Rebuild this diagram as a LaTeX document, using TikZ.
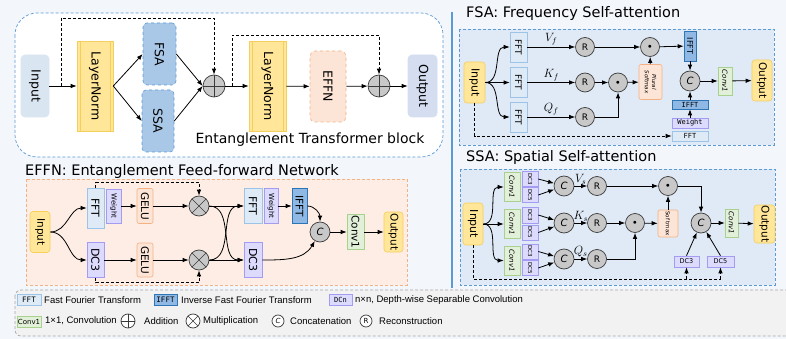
\documentclass[tikz,border=0pt]{standalone}
\usepackage{fontspec}
\setmainfont{DejaVu Sans}
\newfontfamily\monof{DejaVu Sans Mono}
\newfontfamily\legf{Liberation Sans}
\usepackage{graphicx}
\usepackage{xcolor}
\usepackage{tikz}
\usetikzlibrary{calc, arrows.meta}

\definecolor{bgc}{HTML}{F3F6FB}
\definecolor{ylw}{HTML}{FFE699}
\definecolor{ylwd}{HTML}{F5CF5B}
\definecolor{fftc}{HTML}{DEEBF7}
\definecolor{fftd}{HTML}{9DC3E6}
\definecolor{iffc}{HTML}{8FB8E4}
\definecolor{iffd}{HTML}{2E75B6}
\definecolor{purc}{HTML}{DCDAFD}
\definecolor{purd}{HTML}{A49CF2}
\definecolor{orgc}{HTML}{FCE4D6}
\definecolor{orgd}{HTML}{F4B183}
\definecolor{grnc}{HTML}{E2F0D9}
\definecolor{grnd}{HTML}{A9D18E}
\definecolor{opc}{HTML}{C8C8C8}
\definecolor{opd}{HTML}{3A3A3A}
\definecolor{bluel}{HTML}{5B9BD5}
\definecolor{panel}{HTML}{DFEAF6}
\definecolor{effnbg}{HTML}{FDEDE5}
\definecolor{legbg}{HTML}{F2F2F2}
\definecolor{legd}{HTML}{A6A6A6}
\definecolor{inpc}{HTML}{DAE5F2}
\definecolor{outc}{HTML}{D5DDF0}
\definecolor{attn}{HTML}{A9C7E7}

\newcommand{\vt}[1]{\rotatebox{-90}{#1}}

\begin{document}
\begin{tikzpicture}[x=1pt,y=1pt,yscale=-1,
    arr/.style={-{Latex[length=6pt,width=4.5pt]}, line width=0.8pt},
    dsh/.style={dash pattern=on 3pt off 2pt, line width=0.8pt},
    blk/.style={rectangle, draw, inner sep=0pt, line width=0.6pt},
    sz/.style 2 args={minimum width=#1pt, minimum height=#2pt},
    ybox/.style={blk, fill=ylw, draw=ylwd, rounded corners=3pt},
    fbox/.style={blk, fill=fftc, draw=fftd},
    ibox/.style={blk, fill=iffc, draw=iffd},
    pbox/.style={blk, fill=purc, draw=purd},
    obox/.style={blk, fill=orgc, draw=orgd, rounded corners=2pt},
    gbox/.style={blk, fill=grnc, draw=grnd},
    attnbox/.style={blk, fill=attn, draw=bluel, dashed, rounded corners=4pt, fbig},
    lnbox/.style={blk, fill=ylw, draw=ylwd, fbig,
      path picture={\draw[ylwd, line width=0.5pt]
        ([xshift=3pt]path picture bounding box.north west) -- ([xshift=3pt]path picture bounding box.south west)
        ([xshift=-3pt]path picture bounding box.north east) -- ([xshift=-3pt]path picture bounding box.south east);}},
    op/.style={circle, draw=opd, fill=opc, inner sep=0pt, minimum size=20pt, line width=0.7pt},
    addop/.style={op, minimum size=22pt,
      path picture={\draw[opd, line width=0.6pt]
        (path picture bounding box.north) -- (path picture bounding box.south)
        (path picture bounding box.west) -- (path picture bounding box.east);}},
    mulop/.style={op,
      path picture={\draw[opd, line width=0.6pt]
        (path picture bounding box.north west) -- (path picture bounding box.south east)
        (path picture bounding box.north east) -- (path picture bounding box.south west);}},
    catop/.style={op, font=\fontsize{10}{11}\selectfont\itshape},
    recop/.style={op, minimum size=19pt, font=\fontsize{9}{10}\selectfont},
    dotop/.style={op, minimum size=19pt, font=\fontsize{7}{7}\selectfont},
    ttl/.style={font=\fontsize{14.5}{16}\selectfont, inner sep=0pt},
    fbig/.style={font=\fontsize{12.5}{14}\selectfont},
    fmd/.style={font=\fontsize{10.5}{12}\selectfont},
    fsm/.style={font=\fontsize{9}{10}\selectfont},
    ftn/.style={font=\fontsize{7}{8}\selectfont},
    fxs/.style={font=\fontsize{5.5}{6}\selectfont},
    lgt/.style={font=\legf\fontsize{9.5}{10}\selectfont, inner sep=0pt},
    lab/.style={font=\fontsize{12}{14}\selectfont, inner sep=1.5pt}]

\path[use as bounding box] (0,0) rectangle (786,339);
\clip (0,0) rectangle (786,339);
\fill[bgc] (0,0) rectangle (786,339);

% transformer block
\draw[bluel, dsh, line width=0.7pt, fill=white, rounded corners=22pt] (15,13) rectangle (443,157);
\node[blk, sz={28}{62}, fill=inpc, draw=inpc, rounded corners=4pt, fbig] (inA) at (35,86) {\vt{Input}};
\node[lnbox, sz={36}{90}] (lnA) at (95,86) {\vt{LayerNorm}};
\node[attnbox, sz={33}{62}] (fsa) at (159.5,54) {\vt{FSA}};
\node[attnbox, sz={32}{62}] (ssa) at (158,121) {\vt{SSA}};
\node[addop] (addA) at (214,86) {};
\node[lnbox, sz={37}{90}] (lnB) at (267.5,86) {\vt{LayerNorm}};
\node[blk, sz={36}{71}, fill=orgc, draw=orgd, dashed, rounded corners=5pt, fbig] (effnA) at (328,86.5) {\vt{EFFN}};
\node[addop] (addB) at (379,86) {};
\node[blk, sz={29}{62}, fill=outc, draw=outc, rounded corners=4pt, fbig] (outA) at (422.5,86) {\vt{Output}};
\node[font=\fontsize{14}{16}\selectfont, inner sep=0pt] (etb) at (310,140) {Entanglement Transformer block};

\coordinate (skipA) at (61,86);
\coordinate (skipB) at (232,86);
\draw[arr] (inA) -- (lnA);
\draw[arr] (lnA.east) -- (fsa.west);
\draw[arr] (lnA.east) -- (ssa.west);
\draw[arr] (fsa.east) -- (addA.west);
\draw[arr] (ssa.east) -- (addA.west);
\draw[arr] (addA) -- (lnB);
\draw[arr] (lnB) -- (effnA);
\draw[arr] (effnA) -- (addB);
\draw[arr] (addB) -- (outA);
\draw[dsh, arr] (skipA) -- ++(0,-68) -| (addA);
\draw[dsh, arr] (skipB) -- ++(0,-51) -| (addB);

\draw[bluel, line width=1.3pt] (452,12) -- (452,288);

% EFFN
\node[ttl, anchor=west] (effnT) at (25,171) {EFFN: Entanglement Feed-forward Network};
\draw[orgd, dsh, line width=0.7pt, fill=effnbg] (26,179) rectangle (407,285);
\node[ybox, sz={20}{41}, fmd] (inE) at (40,232) {\vt{Input}};
\node[fbox, sz={17}{40}, font=\fontsize{11}{12}\selectfont] (fftE1) at (95.5,208) {\vt{FFT}};
\node[pbox, sz={15}{34}, ftn] (wE1) at (113.5,206) {\vt{Weight}};
\node[obox, sz={16}{35}, fmd] (geluE1) at (145,206) {\vt{GELU}};
\node[mulop] (mulE1) at (199,206) {};
\node[pbox, sz={17}{35}, font=\fontsize{11}{12}\selectfont] (dcE1) at (95.5,260) {\vt{DC3}};
\node[obox, sz={16}{34}, fmd] (geluE2) at (145,260) {\vt{GELU}};
\node[mulop] (mulE2) at (199,260) {};
\node[fbox, sz={18}{35}, font=\fontsize{11}{12}\selectfont] (fftE2) at (253,206) {\vt{FFT}};
\node[pbox, sz={14}{35}, ftn] (wE2) at (271,206) {\vt{Weight}};
\node[ibox, sz={15}{35}, fmd] (ifftE) at (299.5,206) {\vt{IFFT}};
\node[catop] (catE) at (320,232) {C};
\node[pbox, sz={18}{35}, font=\fontsize{11}{12}\selectfont] (dcE2) at (253,260) {\vt{DC3}};
\node[gbox, sz={17}{35}, fmd] (convE) at (355.5,232) {\vt{Conv1}};
\node[ybox, sz={19}{40}, fmd] (outE) at (393.5,232) {\vt{Output}};

\draw[arr] (inE.east) to[out=0, in=180] (fftE1.west);
\draw[arr] (inE.east) to[out=0, in=180] (dcE1.west);
\draw[arr] (wE1) -- (geluE1);
\draw[arr] (geluE1) -- (mulE1);
\draw[arr] (dcE1) -- (geluE2);
\draw[arr] (geluE2) -- (mulE2);
\draw[dsh, arr] (fftE1.north) -- ++(0,-5) -| (mulE1);
\draw[dsh, arr] (dcE1.south) -- ++(0,5) -| (mulE2);
\draw[arr] (mulE1) -- (fftE2);
\draw[arr] (mulE2) -- (dcE2);
\draw[arr] (mulE1.east) to[out=0, in=180] (dcE2.west);
\draw[arr] (mulE2.east) to[out=0, in=180] (fftE2.west);
\draw[arr] (wE2) -- (ifftE);
\draw[arr] (ifftE.east) to[out=0, in=-90] (catE.north);
\draw[arr] (dcE2.east) to[out=0, in=120] (catE.240);
\draw[arr] (catE) -- (convE);
\draw[arr] (convE) -- (outE);

% FSA
\node[ttl, anchor=west] (fsaT) at (466,14) {FSA: Frequency Self-attention};
\draw[bluel, dsh, line width=0.7pt, fill=panel] (459,29) rectangle (774,145);
\node[ybox, sz={21}{41}, font=\fontsize{11}{12}\selectfont] (inF) at (474.5,82.5) {\vt{Input}};
\node[fbox, sz={17}{30}, fsm] (fftF1) at (518.5,47) {\vt{FFT}};
\node[fbox, sz={17}{30}, fsm] (fftF2) at (518.5,82.5) {\vt{FFT}};
\node[fbox, sz={17}{30}, fsm] (fftF3) at (518.5,117) {\vt{FFT}};
\node[recop] (rF1) at (585,47) {R};
\node[recop] (rF2) at (585,82.5) {R};
\node[recop] (rF3) at (585,117) {R};
\node[dotop] (dotF1) at (650,47) {$\bullet$};
\node[dotop] (dotF2) at (618,82.5) {$\bullet$};
\node[obox, sz={23}{35}, fxs] (smF) at (650.5,82) {\vt{\itshape\shortstack{Plural\\Softmax}}};
\node[ibox, sz={12}{30}, font=\fontsize{8}{9}\selectfont] (ifftF) at (690,46) {\vt{IFFT}};
\node[catop] (catF) at (690,81) {C};
\node[gbox, sz={14}{28}, ftn] (convF) at (725,81) {\vt{\itshape Conv1}};
\node[ybox, sz={20}{41}, fmd] (outF) at (762,80.5) {\vt{Output}};
\node[ibox, sz={36}{9}, ftn] (ifftF2) at (690,104.5) {\monof IFFT};
\node[pbox, sz={36}{10}, ftn] (wF) at (690,123) {\monof Weight};
\node[fbox, sz={36}{10}, ftn] (fftF4) at (690,136) {\monof FFT};

\draw[arr] (inF.east) to[out=0, in=180] (fftF1.west);
\draw[arr] (inF) -- (fftF2);
\draw[arr] (inF.east) to[out=0, in=180] (fftF3.west);
\draw[arr] (fftF1) -- node[lab, above] (vf) {$V_f$} (rF1);
\draw[arr] (fftF2) -- node[lab, above] (kf) {$K_f$} (rF2);
\draw[arr] (fftF3) -- node[lab, above] (qf) {$Q_f$} (rF3);
\draw[arr] (rF1) -- (dotF1);
\draw[arr] (dotF1) -- (ifftF);
\draw[arr] (rF2) -- (dotF2);
\draw[arr] (rF3) -| (dotF2);
\draw[arr] (dotF2) -- (smF);
\draw[arr] (smF) -- (dotF1);
\draw[arr] (ifftF) -- (catF);
\draw[arr] (catF) -- (convF);
\draw[arr] (convF) -- (outF);
\draw[arr] (wF) -- (ifftF2);
\draw[arr] (ifftF2) -- (catF);
\draw[dsh, arr] (inF.south) |- (fftF4.west);

% SSA
\node[ttl, anchor=west] (ssaT) at (466,158) {SSA: Spatial Self-attention};
\draw[bluel, dsh, line width=0.7pt, fill=panel] (460,169) rectangle (775,285);
\node[ybox, sz={20}{42}, font=\fontsize{11}{12}\selectfont] (inS) at (473,224) {\vt{Input}};
\node[gbox, sz={16}{29}, ftn] (convS1) at (512,187) {\vt{\itshape Conv1}};
\node[gbox, sz={16}{29}, ftn] (convS2) at (512,224) {\vt{\itshape Conv1}};
\node[gbox, sz={16}{29}, ftn] (convS3) at (512,260.5) {\vt{\itshape Conv1}};
\node[pbox, sz={16}{15}, fxs] (dcS1a) at (530,179) {\vt{DC3}};
\node[pbox, sz={16}{15}, fxs] (dcS1b) at (530,195) {\vt{DC5}};
\node[pbox, sz={16}{16}, fxs] (dcS2a) at (530,215) {\vt{DC3}};
\node[pbox, sz={16}{15}, fxs] (dcS2b) at (530,232.5) {\vt{DC5}};
\node[pbox, sz={16}{15}, fxs] (dcS3a) at (530,251.5) {\vt{DC3}};
\node[pbox, sz={16}{15}, fxs] (dcS3b) at (530,268) {\vt{DC5}};
\node[catop] (catS1) at (564,186) {C};
\node[catop] (catS2) at (564,223) {C};
\node[catop] (catS3) at (564,259) {C};
\node[recop] (rS1) at (597,186) {R};
\node[recop] (rS2) at (597,223) {R};
\node[recop] (rS3) at (597,259) {R};
\node[dotop] (dotS1) at (668,186) {$\bullet$};
\node[dotop] (dotS2) at (635,223) {$\bullet$};
\node[obox, sz={20}{27}, fxs] (smS) at (668,223.5) {\vt{Sof tmax}};
\node[catop] (catS4) at (701,223) {C};
\node[gbox, sz={13}{28}, ftn] (convS4) at (731.5,223) {\vt{\itshape Conv1}};
\node[ybox, sz={21}{38}, fmd] (outS) at (764.5,224) {\vt{Output}};
\node[pbox, sz={25}{11}, font=\fontsize{6.5}{7}\selectfont] (dcS4) at (686.5,261.5) {DC3};
\node[pbox, sz={27}{11}, font=\fontsize{6.5}{7}\selectfont] (dcS5) at (720.5,261.5) {DC5};
\coordinate (sBase) at (0,279);

\draw[arr] (inS.east) to[out=0, in=180] (convS1.west);
\draw[arr] (inS) -- (convS2);
\draw[arr] (inS.east) to[out=0, in=180] (convS3.west);
\draw[arr] (dcS1a.east) -- (catS1);
\draw[arr] (dcS1b.east) -- (catS1);
\draw[arr] (dcS2a.east) -- (catS2);
\draw[arr] (dcS2b.east) -- (catS2);
\draw[arr] (dcS3a.east) -- (catS3);
\draw[arr] (dcS3b.east) -- (catS3);
\draw[arr] (catS1) -- node[lab, above] (vs) {$V_s$} (rS1);
\draw[arr] (catS2) -- node[lab, above] (ks) {$K_s$} (rS2);
\draw[arr] (catS3) -- node[lab, above] (qs) {$Q_s$} (rS3);
\draw[arr] (rS1) -- (dotS1);
\draw[arr] (dotS1) -| (catS4);
\draw[arr] (rS2) -- (dotS2);
\draw[arr] (rS3) -| (dotS2);
\draw[arr] (dotS2) -- (smS);
\draw[arr] (smS) -- (dotS1);
\draw[arr] (catS4) -- (convS4);
\draw[arr] (convS4) -- (outS);
\draw[arr] (dcS4.north) -- (catS4);
\draw[arr] (dcS5.north) -- (catS4);
\draw[dsh] (inS.south) |- (dcS5.south |- sBase);
\draw[dsh, arr] (dcS4.south |- sBase) -- (dcS4.south);
\draw[dsh, arr] (dcS5.south |- sBase) -- (dcS5.south);

% legend
\draw[legd, dsh, line width=0.7pt, fill=legbg, rounded corners=6pt] (15,290) rectangle (800,336);
\node[fbox, sz={24}{11}, font=\monof\fontsize{7.5}{8}\selectfont] (lgFFT) at (29,300) {FFT};
\node[lgt, anchor=west] (lgFFTt) at (44,300) {Fast Fourier Transform};
\node[ibox, sz={23}{11}, font=\monof\fontsize{7.5}{8}\selectfont] (lgIFFT) at (165.5,300) {IFFT};
\node[lgt, anchor=west] (lgIFFTt) at (181,300) {Inverse Fast Fourier Transform};
\node[pbox, sz={23}{11}, font=\monof\fontsize{7}{8}\selectfont] (lgDC) at (340.5,300) {DCn};
\node[lgt, anchor=west] (lgDCt) at (355,300) {n×n, Depth-wise Separable Convolution};
\node[gbox, sz={24}{11}, ftn] (lgConv) at (29,321.5) {Conv1};
\node[lgt, anchor=west] (lgConvt) at (45,321) {1×1, Convolution};
\node[addop, fill=white, minimum size=14pt] (lgAdd) at (128,321) {};
\node[lgt, anchor=west] (lgAddt) at (144,321) {Addition};
\node[mulop, fill=white, minimum size=14pt] (lgMul) at (193,321) {};
\node[lgt, anchor=west] (lgMult) at (203,321) {Multiplication};
\node[catop, fill=white, minimum size=12pt, font=\fontsize{7}{8}\selectfont\itshape] (lgCat) at (278,321) {C};
\node[lgt, anchor=west] (lgCatt) at (290,321) {Concatenation};
\node[recop, fill=white, minimum size=12pt, font=\fontsize{7}{8}\selectfont] (lgRec) at (366,321) {R};
\node[lgt, anchor=west] (lgRect) at (379,321) {Reconstruction};
\end{tikzpicture}
\end{document}
